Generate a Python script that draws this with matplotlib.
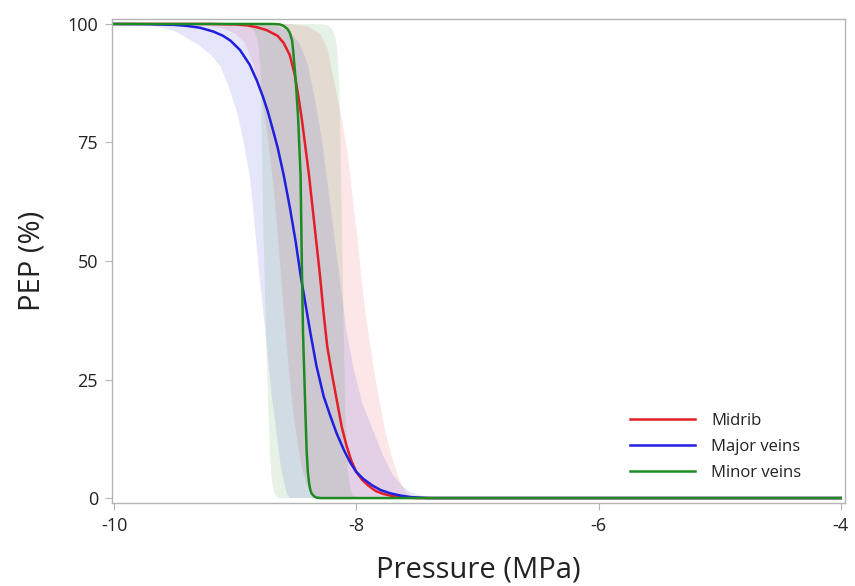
import numpy as np
import matplotlib
matplotlib.use("Agg")
import matplotlib.pyplot as plt

plt.rcParams['font.family'] = ['Open Sans', 'DejaVu Sans']
plt.rcParams['axes.unicode_minus'] = False

# fitted curves
mid_x = [-10, -9.2, -9.0, -8.9, -8.82, -8.74, -8.65, -8.6, -8.55, -8.51, -8.48, -8.45, -8.42, -8.39,
         -8.36, -8.33, -8.30, -8.27, -8.24, -8.20, -8.16, -8.12, -8.08, -8.04, -8.0, -7.95, -7.9,
         -7.84, -7.78, -7.7, -7.6, -7.5, -4]
mid_y = [100, 100, 99.9, 99.7, 99.3, 98.7, 97.5, 96, 93.5, 89.5, 85, 80, 74, 68,
         61, 54, 47, 39, 32, 26, 20.5, 15, 11, 7.8, 5.5, 3.8, 2.6,
         1.5, 0.9, 0.4, 0.1, 0, 0]
maj_x = [-10, -9.7, -9.5, -9.4, -9.29, -9.18, -9.1, -9.04, -8.96, -8.88, -8.82, -8.77, -8.73, -8.69,
         -8.65, -8.60, -8.55, -8.5, -8.46, -8.42, -8.38, -8.33, -8.27, -8.21, -8.16, -8.1, -8.05,
         -8.0, -7.94, -7.87, -7.8, -7.72, -7.63, -7.55, -7.45, -7.4, -4]
maj_y = [100, 99.95, 99.8, 99.6, 99.2, 98.4, 97.5, 96.5, 94.5, 91.4, 88, 84.6, 81.5, 77.8,
         74, 68.2, 61.5, 54, 47, 41, 35, 28, 21.5, 17, 13.5, 10, 7.5,
         5.5, 4, 2.7, 1.7, 1, 0.5, 0.2, 0.05, 0, 0]
min_x = [-10, -8.68, -8.63, -8.6, -8.57, -8.55, -8.53, -8.52, -8.51, -8.50, -8.48, -8.46, -8.45,
         -8.44, -8.42, -8.41, -8.40, -8.39, -8.38, -8.37, -8.35, -8.33, -8.3, -4]
min_y = [100, 100, 99.9, 99.6, 99, 98.2, 96.5, 94, 91, 88, 80, 68, 50,
         35, 18, 10, 5.5, 3.2, 1.8, 1.0, 0.4, 0.1, 0, 0]

# confidence bands: left edge and right edge, each from top to bottom
mid_lo_x = [-10, -9.3, -9.1, -9.0, -8.92, -8.85, -8.78, -8.73, -8.68, -8.64, -8.60, -8.56, -8.52,
            -8.48, -8.45, -8.41, -8.38, -8.34, -8.3]
mid_lo_y = [100, 100, 99, 98, 96, 91.5, 85, 76, 65, 53, 40, 28, 18,
            11, 6.5, 3, 1.2, 0.4, 0]
mid_hi_x = [-10, -8.55, -8.4, -8.3, -8.24, -8.2, -8.16, -8.12, -8.08, -8.05, -8.02, -7.99, -7.96,
            -7.93, -7.89, -7.86, -7.81, -7.76, -7.71, -7.66, -7.62, -7.58, -7.54, -7.5, -4]
mid_hi_y = [100, 100, 99.5, 98, 95, 90, 85, 80, 74, 68, 61, 55, 47,
            40, 33, 28, 20.5, 14, 9, 5, 2.5, 1, 0.3, 0, 0]
maj_lo_x = [-10, -9.75, -9.6, -9.5, -9.43, -9.3, -9.2, -9.12, -9.05, -8.98, -8.93, -8.88, -8.84,
            -8.8, -8.75, -8.7, -8.65, -8.62, -8.59, -8.57, -8.55]
maj_lo_y = [100, 99.8, 99.2, 98.5, 97.5, 95.5, 93.5, 91, 86.5, 81, 75, 68, 58,
            47, 35, 22, 12, 6, 2.5, 0.8, 0]
maj_hi_x = [-10, -8.8, -8.65, -8.55, -8.47, -8.4, -8.34, -8.28, -8.23, -8.18, -8.13, -8.08, -8.02,
            -7.95, -7.85, -7.77, -7.7, -7.62, -7.55, -7.45, -7.35, -7.3, -4]
maj_hi_y = [100, 100, 99.5, 98.5, 96, 91.5, 84, 75, 65, 55, 45, 35, 27,
            20, 13.5, 8.5, 5, 2.5, 1.2, 0.4, 0.1, 0, 0]
min_lo_x = [-10, -8.95, -8.88, -8.84, -8.81, -8.79, -8.78, -8.77, -8.755, -8.74, -8.725, -8.71,
            -8.695, -8.68, -8.66, -8.64]
min_lo_y = [100, 100, 99.5, 98.5, 96, 90, 75, 60, 45, 30, 18, 8,
            3.5, 1.2, 0.3, 0]
min_hi_x = [-10, -8.3, -8.24, -8.2, -8.17, -8.155, -8.14, -8.13, -8.12, -8.11, -8.10, -8.09,
            -8.08, -8.065, -8.05, -8.03, -8.0, -4]
min_hi_y = [100, 100, 99.7, 99, 97, 94, 87, 75, 60, 45, 30, 18,
            10, 5, 2, 0.6, 0, 0]

series = [
    ("Midrib", "#e41e26", mid_x, mid_y, mid_lo_x, mid_lo_y, mid_hi_x, mid_hi_y),
    ("Major veins", "#1f1fe0", maj_x, maj_y, maj_lo_x, maj_lo_y, maj_hi_x, maj_hi_y),
    ("Minor veins", "#1e8a22", min_x, min_y, min_lo_x, min_lo_y, min_hi_x, min_hi_y),
]

fig = plt.figure(figsize=(8.55, 5.86), dpi=100)
ax = fig.add_axes([0.131, 0.1416, 0.857, 0.826])

# shaded bands first, lines on top
for name, col, x, y, lx, ly, hx, hy in series:
    px = np.r_[lx, hx[::-1]]
    py = np.r_[ly, hy[::-1]]
    ax.fill(px, py, color=col, alpha=0.11, lw=0)

for name, col, x, y, lx, ly, hx, hy in series:
    ax.plot(x, y, color=col, lw=1.8, label=name)

ax.set_xlim(-10.017, -3.967)
ax.set_ylim(-1.05, 101.05)
ax.set_xticks([-10, -8, -6, -4])
ax.set_yticks([0, 25, 50, 75, 100])

for s in ax.spines.values():
    s.set_color("#b5b5b5")
    s.set_linewidth(1.0)
ax.tick_params(colors="#b5b5b5", labelcolor="#222222", labelsize=13, length=5, pad=5)

ax.set_xlabel("Pressure (MPa)", fontsize=21, color="#222222", labelpad=15)
ax.set_ylabel("PEP (%)", fontsize=21, color="#222222", labelpad=15)

leg = ax.legend(loc="upper left", bbox_to_anchor=(0.7067, 0.187), frameon=False,
                fontsize=12, handlelength=3.9, labelspacing=0.6, handletextpad=1.0,
                borderpad=0, borderaxespad=0)
for t in leg.get_texts():
    t.set_color("#222222")

fig.savefig("out.png", dpi=100)
